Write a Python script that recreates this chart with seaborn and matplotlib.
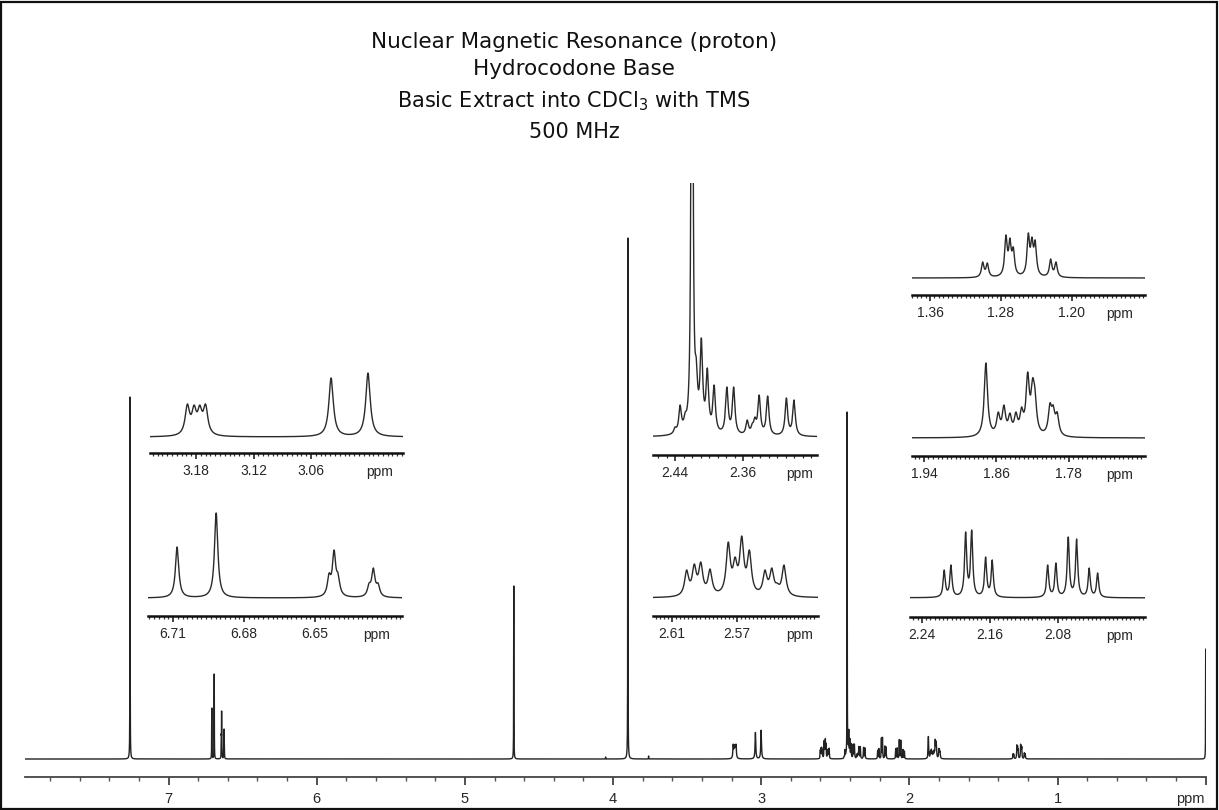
import numpy as np
import pandas as pd
import matplotlib
matplotlib.use("Agg")
import matplotlib.pyplot as plt
import seaborn as sns
from matplotlib.patches import Rectangle
from matplotlib.ticker import MultipleLocator, FixedLocator

sns.set_theme(style="white")
plt.rcParams['font.family'] = ['Liberation Sans', 'DejaVu Sans']
plt.rcParams['mathtext.fontset'] = 'dejavusans'

W, H = 1219, 810

# peak tables: ppm and top height (inset pixels)
ppm_310 = [3.189, 3.182, 3.176, 3.170, 3.039, 3.0005]
hgt_310 = [33, 32, 32, 33, 59, 64]

ppm_670 = [6.7083, 6.6918, 6.6441, 6.6420, 6.6403, 6.6272, 6.6254, 6.6234]
hgt_670 = [51, 85, 25, 48, 25, 15, 30, 15]

ppm_240 = [2.440, 2.434, 2.428, 2.415, 2.409, 2.402, 2.394, 2.379, 2.371,
           2.355, 2.349, 2.346, 2.341, 2.331, 2.309, 2.300]
hgt_240 = [10, 32, 25, 79, 99, 69, 52, 50, 50, 17, 14, 20, 42, 41, 39, 37]

ppm_258 = [2.6010, 2.5963, 2.5923, 2.5866, 2.5754, 2.5712, 2.5671, 2.5624,
           2.5528, 2.5486, 2.5452, 2.5411]
hgt_258 = [28, 34, 36, 29, 56, 41, 62, 48, 28, 30, 15, 33]

ppm_127 = [1.3006, 1.2954, 1.2744, 1.2699, 1.2661, 1.2492, 1.2451, 1.2414,
           1.2240, 1.2180]
hgt_127 = [16, 15, 43, 40, 31, 45, 41, 38, 19, 16]

ppm_184 = [1.8716, 1.8580, 1.8517, 1.8451, 1.8385, 1.8322, 1.8255, 1.8200,
           1.8175, 1.8009, 1.7973, 1.7929]
hgt_184 = [75, 26, 33, 25, 26, 31, 66, 60, 50, 35, 33, 26]

ppm_214 = [2.2138, 2.2059, 2.1886, 2.1815, 2.1651, 2.1573, 2.0921, 2.0824,
           2.0679, 2.0580, 2.0432, 2.0333]
hgt_214 = [28, 33, 66, 68, 41, 38, 33, 35, 61, 59, 30, 25]

# sharp singlets, height in main-spectrum pixels
singlet_ppm = [7.26, 4.67, 4.05, 3.90, 3.76, 2.420, 0.00]
singlet_hgt = [362, 173, 2, 521, 3, 347, 110]

# inset gain relative to the full spectrum, and line half widths (ppm)
regions = {
    'A': (ppm_310, hgt_310, 0.45, 0.0028),
    'B': (ppm_670, hgt_670, 1.00, 0.00085),
    'C': (ppm_240, hgt_240, 0.30, 0.0018),
    'D': (ppm_258, hgt_258, 0.33, 0.0015),
    'E': (ppm_127, hgt_127, 0.33, 0.0017),
    'F': (ppm_184, hgt_184, 0.30, 0.0022),
    'G': (ppm_214, hgt_214, 0.32, 0.0015),
}

ticks_A = [3.18, 3.12, 3.06]
ticks_B = [6.71, 6.68, 6.65]
ticks_C = [2.44, 2.36]
ticks_D = [2.61, 2.57]
ticks_E = [1.36, 1.28, 1.20]
ticks_F = [1.94, 1.86, 1.78]
ticks_G = [2.24, 2.16, 2.08]
main_ticks = [1, 2, 3, 4, 5, 6, 7]

title_lines = ['Nuclear Magnetic Resonance (proton)', 'Hydrocodone Base',
               'Basic Extract into CDCl$_3$ with TMS', '500 MHz']

# ---- build line list, solve amplitudes so tops match the read heights ----
px, pt, pg = [], [], []
for key, (pp, hh, gain, gam) in regions.items():
    px += pp
    pt += [gain * h for h in hh]
    pg += [gam] * len(pp)
px += singlet_ppm
pt += singlet_hgt
pg += [0.0008] * len(singlet_ppm)
px, pt, pg = np.array(px), np.array(pt, float), np.array(pg)

M = 1.0 / (1.0 + ((px[:, None] - px[None, :]) / pg[None, :]) ** 2)
amp = np.linalg.solve(M, pt)
amp = np.clip(amp, 0.05 * pt, None)


def spectrum(x):
    return (amp / (1.0 + ((x[:, None] - px[None, :]) / pg[None, :]) ** 2)).sum(axis=1)


fig = plt.figure(figsize=(W / 100, H / 100), dpi=100)
fig.patch.set_facecolor('white')


def px_axes(x0, x1, ytop, ybot):
    return fig.add_axes([x0 / W, 1 - ybot / H, (x1 - x0) / W, (ybot - ytop) / H])


# ---- main spectrum ----
base_y, axis_y = 759, 777
ax = px_axes(25, 1206, 150, axis_y)
grid = np.union1d(np.arange(-0.01, 7.975, 0.0002), px)
df = pd.DataFrame({'ppm': grid, 'I': spectrum(grid)})
sns.lineplot(data=df, x='ppm', y='I', ax=ax, color='#222222', linewidth=1.0,
             estimator=None, sort=False)
ax.set_xlim(7.969, -0.002)
ax.set_ylim(-(axis_y - base_y), base_y - 150)
for s in ['top', 'left', 'right']:
    ax.spines[s].set_visible(False)
ax.spines['bottom'].set_color('#444444')
ax.spines['bottom'].set_linewidth(1.3)
ax.set_facecolor('none')
ax.set_xlabel('')
ax.set_ylabel('')
ax.set_yticks([])
ax.xaxis.set_major_locator(FixedLocator([0] + main_ticks))
ax.set_xticklabels([''] + [str(t) for t in main_ticks])
ax.xaxis.set_minor_locator(MultipleLocator(0.2))
ax.tick_params(axis='x', which='major', direction='out', length=6, width=1.2,
               color='#333333', pad=5, labelsize=10.5, bottom=True)
ax.tick_params(axis='x', which='minor', direction='out', length=3, width=1.0,
               color='#555555', bottom=True)
fig.text(1190 / W, 1 - 799 / H, 'ppm', ha='center', va='center', fontsize=10.5)

# ---- insets ----
layout = {
    'A': dict(x0=150, x1=403, p0=3.228, p1=2.964, base=437, axis=453, ticks=ticks_A, minor=0.005, ppm_x=380),
    'B': dict(x0=148, x1=402, p0=6.7206, p1=6.6133, base=598, axis=616, ticks=ticks_B, minor=0.002, ppm_x=377),
    'C': dict(x0=653, x1=817, p0=2.4659, p1=2.273, base=437, axis=455, ticks=ticks_C, minor=0.01, ppm_x=800, top=183),
    'D': dict(x0=653, x1=818, p0=2.6217, p1=2.5202, base=598, axis=616, ticks=ticks_D, minor=0.0025, ppm_x=800),
    'E': dict(x0=912, x1=1145, p0=1.3803, p1=1.1177, base=278, axis=295, ticks=ticks_E, minor=0.005, ppm_x=1120),
    'F': dict(x0=912, x1=1145, p0=1.9532, p1=1.696, base=438, axis=456, ticks=ticks_F, minor=0.005, ppm_x=1120),
    'G': dict(x0=910, x1=1145, p0=2.2541, p1=1.9776, base=598, axis=617, ticks=ticks_G, minor=0.005, ppm_x=1120),
}

for key, L in layout.items():
    gain = regions[key][2]
    top = L.get('top', L['base'] - 115)
    ia = px_axes(L['x0'], L['x1'], top, L['axis'])
    xs = np.union1d(np.linspace(L['p1'], L['p0'], 3000), px[(px <= L['p0']) & (px >= L['p1'])])
    d = pd.DataFrame({'ppm': xs, 'I': spectrum(xs) / gain})
    sns.lineplot(data=d, x='ppm', y='I', ax=ia, color='#2a2a2a', linewidth=1.0,
                 estimator=None, sort=False)
    ia.set_xlim(L['p0'], L['p1'])
    ia.set_ylim(-(L['axis'] - L['base']), L['base'] - top)
    for s in ['top', 'left', 'right']:
        ia.spines[s].set_visible(False)
    ia.spines['bottom'].set_color('#111111')
    ia.spines['bottom'].set_linewidth(1.8)
    ia.set_facecolor('none')
    ia.set_xlabel('')
    ia.set_ylabel('')
    ia.set_yticks([])
    ia.xaxis.set_major_locator(FixedLocator(L['ticks']))
    ia.set_xticklabels(['%.2f' % t for t in L['ticks']])
    ia.xaxis.set_minor_locator(MultipleLocator(L['minor']))
    ia.tick_params(axis='x', which='major', direction='out', length=4, width=1.1,
                   color='#111111', pad=4, labelsize=10, bottom=True)
    ia.tick_params(axis='x', which='minor', direction='out', length=2.5, width=0.9,
                   color='#333333', bottom=True)
    fig.text(L['ppm_x'] / W, 1 - (L['axis'] + 19) / H, 'ppm', ha='center',
             va='center', fontsize=10)

# ---- title ----
title_y = [42, 69, 101, 132]
title_size = [15.5, 15.5, 15, 15]
for txt, ty, fs in zip(title_lines, title_y, title_size):
    fig.text(574 / W, 1 - ty / H, txt, fontsize=fs, family='DejaVu Sans',
             color='#111111', ha='center', va='center')

fig.add_artist(Rectangle((1 / W, 1 / H), 1 - 3 / W, 1 - 3 / H, transform=fig.transFigure,
                         fill=False, edgecolor='#111111', linewidth=1.6))

fig.savefig('out.png', dpi=100)
